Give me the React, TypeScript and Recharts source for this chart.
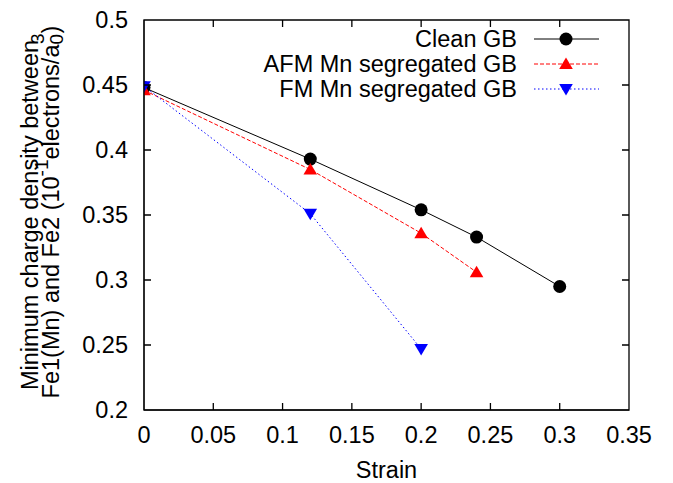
import React from 'react';
import { LineChart, Line, XAxis, YAxis, Legend } from 'recharts';

const strain = [0, 0.12, 0.2, 0.24, 0.3];
const cleanGB = [0.448, 0.393, 0.354, 0.333, 0.295];
const afmGB = [0.446, 0.385, 0.336, 0.306];
const fmGB = [0.449, 0.351, 0.247];

const xTicks = [0, 0.05, 0.1, 0.15, 0.2, 0.25, 0.3, 0.35];
const yTicks = [0.2, 0.25, 0.3, 0.35, 0.4, 0.45, 0.5];

const toPoints = (vals: number[]) => vals.map((y, i) => ({ x: strain[i], y }));
const cleanData = toPoints(cleanGB);
const afmData = toPoints(afmGB);
const fmData = toPoints(fmGB);

const FONT = '"Liberation Sans", Arial, Helvetica, sans-serif';
const FS = 23.5;

const W = 673, H = 483;
const MARGIN = { top: 20, right: 44, bottom: 0, left: 0 };
const Y_AXIS_W = 144, X_AXIS_H = 73;
const X0 = 0, X1 = 0.35, Y0 = 0.2, Y1 = 0.5;

// plot box, from the layout settings above
const plotL = MARGIN.left + Y_AXIS_W;
const plotR = W - MARGIN.right;
const plotT = MARGIN.top;
const plotB = H - MARGIN.bottom - X_AXIS_H;
const TICK = 7;

const circleDot = (cx: number, cy: number, key?: any) => (
  <circle key={key} cx={cx} cy={cy} r={6.5} fill="#000000" />
);
const upDot = (cx: number, cy: number, key?: any) => (
  <polygon key={key} points={`${cx},${cy - 6.5} ${cx - 6.8},${cy + 5} ${cx + 6.8},${cy + 5}`} fill="#ff0000" />
);
const downDot = (cx: number, cy: number, key?: any) => (
  <polygon key={key} points={`${cx - 6.8},${cy - 5} ${cx + 6.8},${cy - 5} ${cx},${cy + 6.5}`} fill="#0000ff" />
);

const series = [
  { name: 'Clean GB', data: cleanData, color: '#000000', dash: undefined, marker: circleDot },
  { name: 'AFM Mn segregated GB', data: afmData, color: '#ff0000', dash: '4 2', marker: upDot },
  { name: 'FM Mn segregated GB', data: fmData, color: '#0000ff', dash: '1.5 2.5', marker: downDot },
];

const sx = (v: number) => plotL + ((v - X0) / (X1 - X0)) * (plotR - plotL);
const sy = (v: number) => plotB - ((v - Y0) / (Y1 - Y0)) * (plotB - plotT);

// gnuplot border: box with inward ticks on all four sides
const framePath = () => {
  let d = `M${plotL},${plotT}H${plotR}V${plotB}H${plotL}Z`;
  xTicks.forEach((t) => {
    const x = sx(t);
    d += `M${x},${plotB}v${-TICK}M${x},${plotT}v${TICK}`;
  });
  yTicks.forEach((t) => {
    const y = sy(t);
    d += `M${plotL},${y}h${TICK}M${plotR},${y}h${-TICK}`;
  });
  return d;
};

const renderLegend = () => (
  <svg width={W} height={110} style={{ display: 'block' }}>
    {series.map((s, i) => {
      const cy = 39 + i * 25;
      return (
        <g key={s.name}>
          <text x={517} y={cy + 8} textAnchor="end" fontFamily={FONT} fontSize={FS} fill="#000">
            {s.name}
          </text>
          <line x1={534} x2={599} y1={cy} y2={cy} stroke={s.color} strokeWidth={1} strokeDasharray={s.dash} />
          {s.marker(566, cy)}
        </g>
      );
    })}
  </svg>
);

const YLabel = () => (
  <g fontFamily={FONT} fontSize={FS} fill="#000">
    <text transform="translate(38,215) rotate(-90)" textAnchor="middle">
      Minimum charge density between
    </text>
    <text transform="translate(59,212) rotate(-90)" textAnchor="middle">
      <tspan>Fe1(Mn) and Fe2 (10</tspan>
      <tspan fontSize={19} dy={-11}>-1</tspan>
      <tspan dy={11}>electrons/a</tspan>
      <tspan fontSize={19} dy={4}>0</tspan>
      <tspan fontSize={19} dx={-10} dy={-19}>3</tspan>
      <tspan dy={15}>)</tspan>
    </text>
  </g>
);

const tickStyle = { fill: '#000000', fontSize: FS, fontFamily: FONT };

export default function App() {
  return (
    <div style={{ position: 'absolute', left: 0, top: 0, width: W, height: H, background: '#ffffff' }}>
      <LineChart width={W} height={H} margin={MARGIN}>
        <XAxis
          type="number"
          dataKey="x"
          domain={[X0, X1]}
          ticks={xTicks}
          allowDataOverflow
          height={X_AXIS_H}
          tickSize={-7}
          tickMargin={23}
          tick={tickStyle}
          stroke="#000000"
          tickLine={false}
          label={{ value: 'Strain', position: 'insideBottom', offset: 5, fill: '#000000', fontSize: FS, fontFamily: FONT }}
        />
        <YAxis
          type="number"
          domain={[Y0, Y1]}
          ticks={yTicks}
          allowDataOverflow
          width={Y_AXIS_W}
          tickSize={-7}
          tickMargin={23}
          tick={tickStyle}
          stroke="#000000"
          tickLine={false}
          label={<YLabel />}
        />
        <Legend
          layout="horizontal"
          verticalAlign="middle"
          align="center"
          content={renderLegend}
          wrapperStyle={{ left: 0, top: 0, width: W, height: 110 }}
        />
        {series.map((s) => (
          <Line
            key={s.name}
            data={s.data}
            dataKey="y"
            name={s.name}
            type="linear"
            stroke={s.color}
            strokeWidth={1}
            strokeDasharray={s.dash}
            dot={(p: any) => s.marker(p.cx, p.cy, `${s.name}-${p.index}`)}
            activeDot={false}
            isAnimationActive={false}
          />
        ))}
      </LineChart>
      <svg width={W} height={H} style={{ position: 'absolute', left: 0, top: 0, pointerEvents: 'none' }}>
        <path d={framePath()} stroke="#000000" strokeWidth={1.3} fill="none" />
      </svg>
    </div>
  );
}
